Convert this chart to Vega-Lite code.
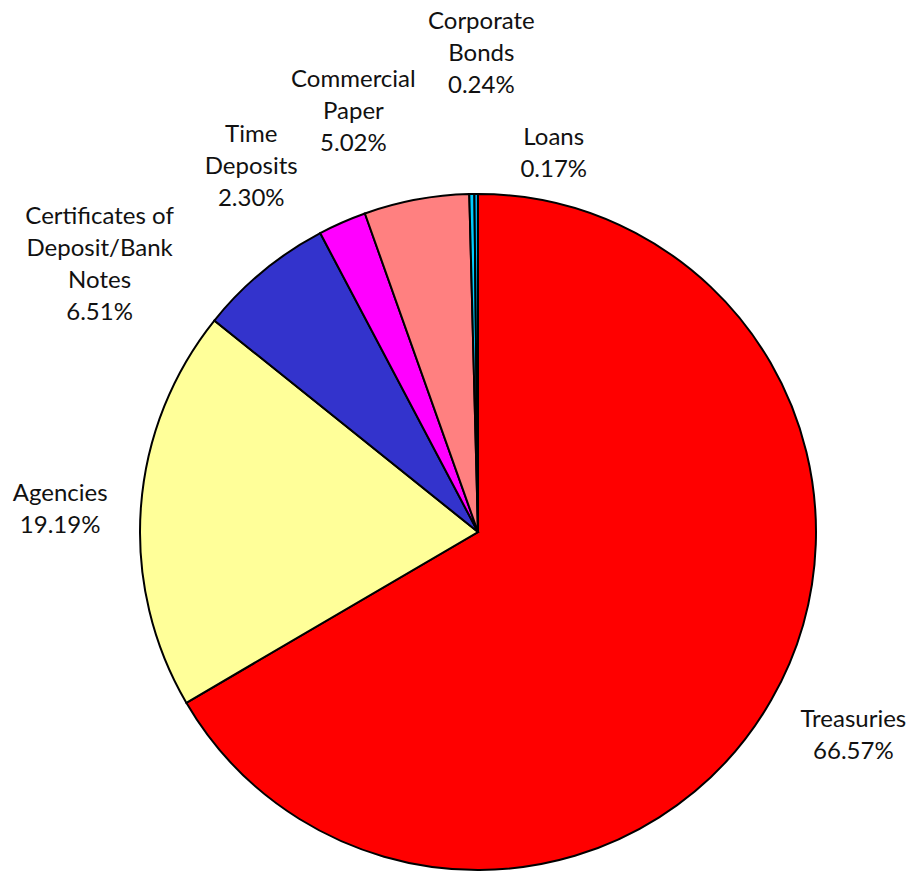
{
  "$schema": "https://vega.github.io/schema/vega-lite/v6.json",
  "width": 872,
  "height": 678,
  "padding": {"left": 42, "top": 193, "right": 0, "bottom": 0},
  "autosize": {"type": "none"},
  "background": "white",
  "config": {"view": {"stroke": null}},
  "data": {
    "values": [
      {"idx": 1, "category": "Treasuries", "label": "Treasuries\n66.57%", "value": 66.57},
      {"idx": 2, "category": "Agencies", "label": "Agencies\n19.19%", "value": 19.19},
      {"idx": 3, "category": "Certificates of Deposit/Bank Notes", "label": "Certificates of\nDeposit/Bank\nNotes\n6.51%", "value": 6.51},
      {"idx": 4, "category": "Time Deposits", "label": "Time\nDeposits\n2.30%", "value": 2.30},
      {"idx": 5, "category": "Commercial Paper", "label": "Commercial\nPaper\n5.02%", "value": 5.02},
      {"idx": 6, "category": "Corporate Bonds", "label": "Corporate\nBonds\n0.24%", "value": 0.24},
      {"idx": 7, "category": "Loans", "label": "Loans\n0.17%", "value": 0.17}
    ]
  },
  "encoding": {
    "theta": {"field": "value", "type": "quantitative", "stack": true},
    "order": {"field": "idx", "type": "quantitative"}
  },
  "layer": [
    {
      "mark": {"type": "arc", "outerRadius": 338, "stroke": "black", "strokeWidth": 2},
      "encoding": {
        "color": {
          "field": "category",
          "type": "nominal",
          "legend": null,
          "scale": {
            "domain": ["Treasuries", "Agencies", "Certificates of Deposit/Bank Notes", "Time Deposits", "Commercial Paper", "Corporate Bonds", "Loans"],
            "range": ["#FF0000", "#FFFF99", "#3333CC", "#FF00FF", "#FF8080", "#00CCFF", "#00B0F0"]
          }
        }
      }
    },
    {
      "mark": {"type": "text", "radius": 420, "dx": 11, "dy": -21, "lineBreak": "\n", "lineHeight": 32, "font": "Lato", "fontSize": 24, "color": "#111111", "align": "center", "baseline": "middle"},
      "encoding": {"text": {"condition": {"test": "datum.category == 'Treasuries'", "field": "label"}, "value": ""}}
    },
    {
      "mark": {"type": "text", "radius": 420, "dx": 1, "dy": -7, "lineBreak": "\n", "lineHeight": 32, "font": "Lato", "fontSize": 24, "color": "#111111", "align": "center", "baseline": "middle"},
      "encoding": {"text": {"condition": {"test": "datum.category == 'Agencies'", "field": "label"}, "value": ""}}
    },
    {
      "mark": {"type": "text", "radius": 420, "dx": -111, "dy": 9, "lineBreak": "\n", "lineHeight": 32, "font": "Lato", "fontSize": 24, "color": "#111111", "align": "center", "baseline": "middle"},
      "encoding": {"text": {"condition": {"test": "datum.category == 'Certificates of Deposit/Bank Notes'", "field": "label"}, "value": ""}}
    },
    {
      "mark": {"type": "text", "radius": 420, "dx": -58, "dy": -12, "lineBreak": "\n", "lineHeight": 32, "font": "Lato", "fontSize": 24, "color": "#111111", "align": "center", "baseline": "middle"},
      "encoding": {"text": {"condition": {"test": "datum.category == 'Time Deposits'", "field": "label"}, "value": ""}}
    },
    {
      "mark": {"type": "text", "radius": 420, "dx": -48, "dy": -39, "lineBreak": "\n", "lineHeight": 32, "font": "Lato", "fontSize": 24, "color": "#111111", "align": "center", "baseline": "middle"},
      "encoding": {"text": {"condition": {"test": "datum.category == 'Commercial Paper'", "field": "label"}, "value": ""}}
    },
    {
      "mark": {"type": "text", "radius": 420, "dx": 11, "dy": -90, "lineBreak": "\n", "lineHeight": 32, "font": "Lato", "fontSize": 24, "color": "#111111", "align": "center", "baseline": "middle"},
      "encoding": {"text": {"condition": {"test": "datum.category == 'Corporate Bonds'", "field": "label"}, "value": ""}}
    },
    {
      "mark": {"type": "text", "radius": 420, "dx": 78, "dy": 26, "lineBreak": "\n", "lineHeight": 32, "font": "Lato", "fontSize": 24, "color": "#111111", "align": "center", "baseline": "middle"},
      "encoding": {"text": {"condition": {"test": "datum.category == 'Loans'", "field": "label"}, "value": ""}}
    }
  ]
}
